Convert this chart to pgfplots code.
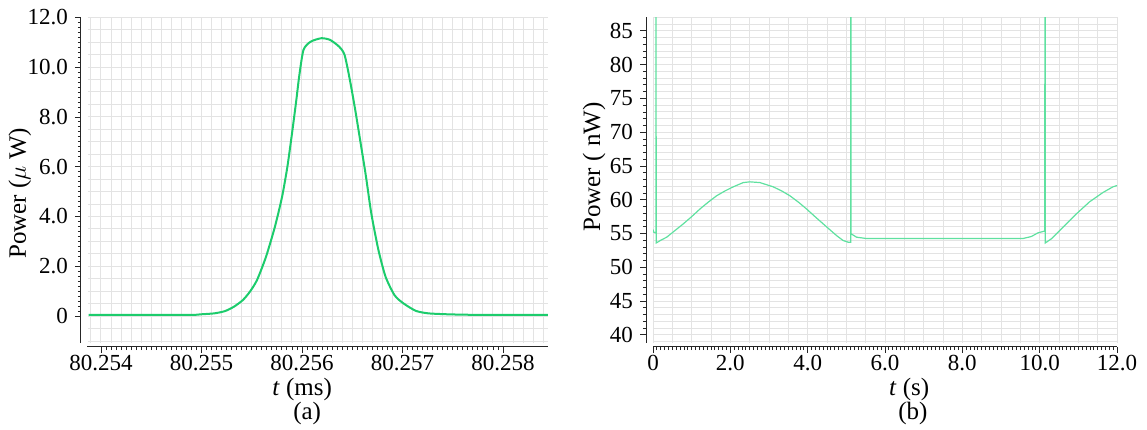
\documentclass[border=0pt]{standalone}
\usepackage{fontspec}
\setmainfont{Liberation Serif}
\usepackage{pgfplots}
\pgfplotsset{compat=1.18}
\definecolor{leftgreen}{RGB}{28,204,108}
\definecolor{rightgreen}{RGB}{95,225,160}
\pgfplotsset{
 gridaxis/.style={scale only axis, xticklabels={}, yticklabels={}, major tick length=0pt,
   grid=major, major grid style={draw=black!11, line width=0.5pt},
   axis line style={draw=none}, tick style={draw=none}},
 mainaxis/.style={scale only axis, axis lines=left, axis line style={-, black!85, line width=0.5pt},
   tick align=outside, major tick length=3pt, minor tick length=1.6pt,
   tick style={black!85, line width=0.4pt},
   ticklabel style={font=\fontsize{11.5}{13}\selectfont},
   xticklabel style={anchor=north, inner sep=0pt, yshift=-1pt},
   label style={font=\fontsize{12.5}{14}\selectfont, inner sep=0pt},
   clip mode=individual,
   /pgf/number format/assume math mode=true}
}
\begin{document}
\begin{tikzpicture}
\path (0,0) rectangle (573.5pt,214.5pt);
% ---------- left panel ----------
\begin{axis}[gridaxis, at={(43.75pt,43pt)}, anchor=south west, width=230.25pt, height=162.85pt,
  xmin=-0.134, xmax=4.448, ymin=-1.08, ymax=12, xtick distance=0.1, ytick distance=0.5]
\addplot[draw=none] coordinates {(0,0)};
\end{axis}
\begin{axis}[mainaxis, at={(43.75pt,43pt)}, anchor=south west, width=230.25pt, height=162.85pt,
  xmin=-0.134, xmax=4.448, ymin=-1.08, ymax=12,
  axis x line shift=2pt, axis y line shift=3.25pt,
  xtick={0,1,2,3,4}, xticklabels={80.254,80.255,80.256,80.257,80.258}, minor x tick num=19,
  ytick={0,2,4,6,8,10,12}, yticklabels={0,2.0,4.0,6.0,8.0,10.0,12.0}, minor y tick num=9,
  xlabel={\textit{t} (ms)}, ylabel={Power ($\mu$ W)},
  xlabel style={at={(axis description cs:0.466,0)}, anchor=center, yshift=-23pt},
  ylabel style={at={(axis description cs:-0.1466,0.46)}, anchor=center}]
\addplot[leftgreen, line width=1pt, smooth, tension=0.4] coordinates {
(-0.124,0.05) (0.878,0.05) (0.984,0.07) (1.127,0.11) (1.233,0.2) (1.322,0.375) (1.411,0.64)
(1.482,0.98) (1.553,1.45) (1.642,2.38) (1.731,3.59) (1.802,4.79) (1.855,6.0) (1.901,7.34)
(1.944,8.68) (1.972,9.62) (2.015,10.69) (2.086,11.02) (2.193,11.16) (2.281,11.09) (2.370,10.82)
(2.424,10.49) (2.477,9.48) (2.530,8.28) (2.584,6.94) (2.637,5.6) (2.690,4.12) (2.761,2.65)
(2.832,1.58) (2.921,0.84) (3.010,0.51) (3.134,0.21) (3.259,0.11) (3.472,0.07) (3.756,0.05) (4.449,0.05)};
\node[font=\fontsize{12.5}{14}\selectfont, inner sep=0pt] at (axis description cs:0.477,0) [yshift=-35pt] {(a)};
\end{axis}
% ---------- right panel ----------
\begin{axis}[gridaxis, at={(326.5pt,43pt)}, anchor=south west, width=232pt, height=162.85pt,
  xmin=0, xmax=12, ymin=38.8, ymax=87, xtick distance=0.5, ytick distance=1]
\addplot[draw=none] coordinates {(0,50)};
\end{axis}
\begin{axis}[mainaxis, at={(326.5pt,43pt)}, anchor=south west, width=232pt, height=162.85pt,
  xmin=0, xmax=12, ymin=38.8, ymax=87,
  axis x line shift=2pt, axis y line shift=3.5pt,
  xtick={0,2,4,6,8,10,12}, xticklabels={0,2.0,4.0,6.0,8.0,10.0,12.0}, minor x tick num=19,
  ytick={40,45,50,55,60,65,70,75,80,85}, minor y tick num=4,
  xlabel={\textit{t} (s)}, ylabel={Power ( nW)},
  xlabel style={at={(axis description cs:0.552,0)}, anchor=center, yshift=-23pt},
  ylabel style={at={(axis description cs:-0.127,0.54)}, anchor=center}]
\addplot[rightgreen, line width=0.6pt] coordinates {
(0,55.6) (0.02,55.2) (0.07,55.1) (0.078,55.1) (0.078,150) (0.082,53.6) (0.2,54.0) (0.354,54.46)
(0.783,56.43) (1.0,57.5) (1.214,58.63) (1.43,59.65) (1.646,60.59) (1.86,61.3) (2.075,61.91) (2.333,62.54)
(2.506,62.65) (2.765,62.54) (3.109,61.91) (3.33,61.3) (3.54,60.59) (3.76,59.65) (3.972,58.63) (4.19,57.5) (4.401,56.43)
(4.747,54.7) (4.917,53.97) (5.047,53.72) (5.112,53.72) (5.116,150) (5.124,54.96) (5.264,54.46)
(5.522,54.26) (9.568,54.26) (9.786,54.56) (9.956,55.1) (10.111,55.34) (10.133,55.34) (10.137,150)
(10.145,53.6) (10.302,54.22) (10.602,55.93) (10.948,57.9) (11.292,59.7) (11.636,61.07) (11.894,61.91) (12.0,62.1)};
\node[font=\fontsize{12.5}{14}\selectfont, inner sep=0pt] at (axis description cs:0.56,0) [yshift=-35pt] {(b)};
\end{axis}
\end{tikzpicture}
\end{document}
